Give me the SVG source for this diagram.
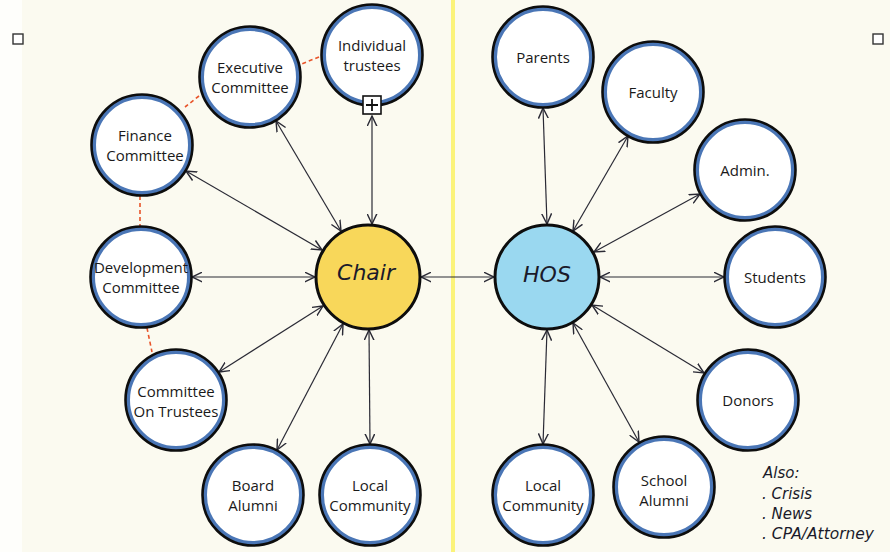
<svg xmlns="http://www.w3.org/2000/svg" width="890" height="552" viewBox="0 0 890 552">
<defs>
<marker id="ah" viewBox="0 0 10 10" refX="9.5" refY="5" markerWidth="11" markerHeight="11" markerUnits="userSpaceOnUse" orient="auto-start-reverse">
<path d="M0,0.5 L9.5,5 L0,9.5" fill="none" stroke="#2a2a35" stroke-width="1.3"/>
</marker>
</defs>
<style>
.ring{fill:#fff;stroke:#4a76b6;stroke-width:4}
.edge{fill:none;stroke:#0d0d0d;stroke-width:2.6}
.lbl{font-family:"Open Sans","DejaVu Sans",sans-serif;font-size:15px;fill:#1a1a1a;text-anchor:middle}
.hand{font-family:"DejaVu Sans",sans-serif;font-style:italic;fill:#1a1a2a}
.c{fill:none;stroke:#2a2a35;stroke-width:1.2;marker-start:url(#ah);marker-end:url(#ah)}
.dash{fill:none;stroke:#e8542a;stroke-width:1.6;stroke-dasharray:4 3}
</style>
<rect width="890" height="552" fill="#fbfaf0"/>
<rect x="0" y="0" width="22" height="552" fill="#fefefb"/>
<line x1="453" y1="0" x2="453" y2="552" stroke="#fbf37a" stroke-width="4"/>
<rect x="13" y="34" width="10" height="10" fill="#fff" stroke="#333" stroke-width="1.4"/>
<rect x="873" y="34" width="10" height="10" fill="#fff" stroke="#333" stroke-width="1.4"/>

<g id="dashes">
<line class="dash" x1="319" y1="57" x2="299" y2="65"/>
<line class="dash" x1="199" y1="96" x2="185" y2="107"/>
<line class="dash" x1="140" y1="196" x2="140" y2="226"/>
<line class="dash" x1="147" y1="328" x2="152" y2="352"/>
</g>

<g id="connectors">
<line class="c" x1="372" y1="224" x2="372" y2="116"/>
<line class="c" x1="341" y1="231" x2="276" y2="121"/>
<line class="c" x1="322" y1="250" x2="186" y2="171"/>
<line class="c" x1="315" y1="277" x2="192" y2="277"/>
<line class="c" x1="323" y1="306" x2="219" y2="372"/>
<line class="c" x1="343" y1="324" x2="277" y2="450"/>
<line class="c" x1="369" y1="330" x2="370" y2="444"/>
<line class="c" x1="421" y1="277" x2="494" y2="277"/>
<line class="c" x1="547" y1="224" x2="543" y2="108"/>
<line class="c" x1="573" y1="231" x2="628" y2="136"/>
<line class="c" x1="594" y1="252" x2="700" y2="194"/>
<line class="c" x1="600" y1="277" x2="724" y2="277"/>
<line class="c" x1="592" y1="305" x2="704" y2="373"/>
<line class="c" x1="573" y1="323" x2="639" y2="442"/>
<line class="c" x1="547" y1="330" x2="543" y2="444"/>
</g>

<g id="individual-trustees">
<circle class="ring" cx="372" cy="55" r="48"/><circle class="edge" cx="372" cy="55" r="50.5"/>
<text class="lbl" x="372" y="51">Individual</text><text class="lbl" x="372" y="71">trustees</text>
<rect x="363" y="96" width="18" height="18" fill="#fff" stroke="#111" stroke-width="1.6"/>
<path d="M366,105 H378 M372,99 V111" stroke="#111" stroke-width="1.8"/>
</g>
<g id="executive-committee">
<circle class="ring" cx="250" cy="77" r="48"/><circle class="edge" cx="250" cy="77" r="50.5"/>
<text class="lbl" x="250" y="73">Executive</text><text class="lbl" x="250" y="93">Committee</text>
</g>
<g id="finance-committee">
<circle class="ring" cx="142" cy="145" r="48"/><circle class="edge" cx="142" cy="145" r="50.5"/>
<text class="lbl" x="145" y="141">Finance</text><text class="lbl" x="145" y="161">Committee</text>
</g>
<g id="development-committee">
<circle class="ring" cx="141" cy="277" r="48"/><circle class="edge" cx="141" cy="277" r="50.5"/>
<text class="lbl" x="141" y="273">Development</text><text class="lbl" x="141" y="293">Committee</text>
</g>
<g id="committee-on-trustees">
<circle class="ring" cx="176" cy="400" r="48"/><circle class="edge" cx="176" cy="400" r="50.5"/>
<text class="lbl" x="176" y="397">Committee</text><text class="lbl" x="176" y="417">On Trustees</text>
</g>
<g id="board-alumni">
<circle class="ring" cx="253" cy="495" r="48"/><circle class="edge" cx="253" cy="495" r="50.5"/>
<text class="lbl" x="253" y="491">Board</text><text class="lbl" x="253" y="511">Alumni</text>
</g>
<g id="local-community-left">
<circle class="ring" cx="370" cy="495" r="48"/><circle class="edge" cx="370" cy="495" r="50.5"/>
<text class="lbl" x="370" y="491">Local</text><text class="lbl" x="370" y="511">Community</text>
</g>
<g id="chair">
<circle cx="368" cy="277" r="52" fill="#f8d75a" stroke="#0d0d0d" stroke-width="3"/>
<text class="hand" x="366" y="280" font-size="22" text-anchor="middle">Chair</text>
</g>
<g id="hos">
<circle cx="547" cy="277" r="52" fill="#9ad8f0" stroke="#0d0d0d" stroke-width="3"/>
<text class="hand" x="547" y="282" font-size="22" text-anchor="middle">HOS</text>
</g>
<g id="parents">
<circle class="ring" cx="543" cy="57" r="48"/><circle class="edge" cx="543" cy="57" r="50.5"/>
<text class="lbl" x="543" y="63">Parents</text>
</g>
<g id="faculty">
<circle class="ring" cx="653" cy="92" r="48"/><circle class="edge" cx="653" cy="92" r="50.5"/>
<text class="lbl" x="653" y="98">Faculty</text>
</g>
<g id="admin">
<circle class="ring" cx="745" cy="170" r="48"/><circle class="edge" cx="745" cy="170" r="50.5"/>
<text class="lbl" x="745" y="176">Admin.</text>
</g>
<g id="students">
<circle class="ring" cx="775" cy="277" r="48"/><circle class="edge" cx="775" cy="277" r="50.5"/>
<text class="lbl" x="775" y="283">Students</text>
</g>
<g id="donors">
<circle class="ring" cx="748" cy="400" r="48"/><circle class="edge" cx="748" cy="400" r="50.5"/>
<text class="lbl" x="748" y="406">Donors</text>
</g>
<g id="school-alumni">
<circle class="ring" cx="664" cy="487" r="48"/><circle class="edge" cx="664" cy="487" r="50.5"/>
<text class="lbl" x="664" y="486">School</text><text class="lbl" x="664" y="506">Alumni</text>
</g>
<g id="local-community-right">
<circle class="ring" cx="543" cy="495" r="48"/><circle class="edge" cx="543" cy="495" r="50.5"/>
<text class="lbl" x="543" y="491">Local</text><text class="lbl" x="543" y="511">Community</text>
</g>

<g id="note" class="hand" font-size="15">
<text x="763" y="478">Also:</text>
<text x="762" y="499">. Crisis</text>
<text x="762" y="519">. News</text>
<text x="762" y="539" textLength="112" lengthAdjust="spacingAndGlyphs">. CPA/Attorney</text>
</g>
</svg>
